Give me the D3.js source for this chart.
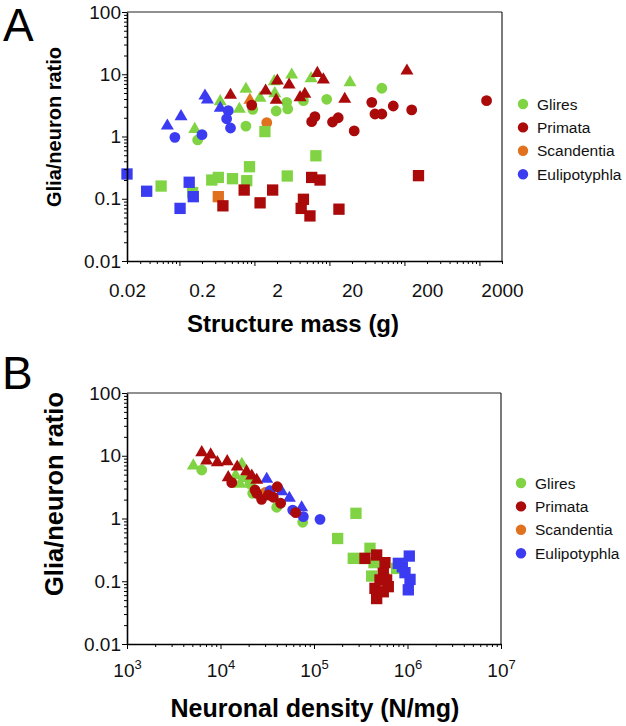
<!DOCTYPE html>
<html><head><meta charset="utf-8">
<script src="https://cdn.jsdelivr.net/npm/d3@7"></script>
<style>
html,body{margin:0;padding:0;background:#fff;}
svg{display:block;font-family:"Liberation Sans",Arial,Helvetica,sans-serif;}
</style></head>
<body>
<svg id="chart" width="626" height="726"></svg>
<script>
// ---------- DATA ----------
const groups = ["Glires","Primata","Scandentia","Eulipotyphla"];
const groupColors = ["#80d443","#aa0a0a","#e0711f","#3b3bf2"];
const drawOrder = ["Scandentia","Glires","Eulipotyphla","Primata"];

// Panel A: [structure mass (g), glia/neuron ratio]
const massGliresCircle = [[0.175,0.88],[0.77,1.47],[0.95,2.73],[1.95,2.57],[2.69,3.54],[2.78,2.77],[4.5,3.76],[9.2,3.96],[50,5.95]];
const massGliresTriangle = [[0.16,1.35],[0.35,3.76],[0.63,2.84],[0.77,5.95],[1.19,4.26],[1.84,7.88],[1.87,5.06],[3.14,10.1],[5.7,8.8],[18.8,7.6]];
const massGliresSquare = [[0.057,0.16],[0.15,0.126],[0.27,0.2],[0.33,0.22],[0.51,0.21],[0.79,0.195],[0.86,0.327],[1.38,1.2],[2.74,0.232],[6.6,0.49]];
const massPrimataCircle = [[0.92,3.2],[5.8,1.73],[6.4,2.08],[11,1.71],[13.1,2.0],[21.4,1.23],[36.7,3.54],[40.5,2.3],[50,2.3],[71,3.09],[125,2.67],[1245,3.76]];
const massPrimataTriangle = [[0.48,4.76],[1.41,5.58],[2.02,8.09],[1.95,3.96],[2.9,6.97],[4.06,4.36],[4.7,4.94],[6.9,10.7],[8.3,8.4],[16,4.11],[108,11.7]];
const massPrimataSquare = [[0.38,0.077],[0.73,0.138],[1.19,0.086],[1.75,0.138],[4.5,0.098],[4.2,0.070],[5.5,0.053],[5.8,0.22],[7.5,0.2],[13.4,0.068],[154,0.235]];
const massScandentiaCircle = [[1.46,1.67]];
const massScandentiaTriangle = [[0.87,3.96]];
const massScandentiaSquare = [[0.33,0.108]];
const massEulipotyphlaCircle = [[0.087,0.97],[0.2,1.07],[0.448,2.6],[0.426,1.93],[0.48,1.37]];
const massEulipotyphlaTriangle = [[0.069,1.53],[0.105,2.16],[0.219,4.64],[0.236,4.0],[0.35,2.94]];
const massEulipotyphlaSquare = [[0.02,0.25],[0.0366,0.132],[0.135,0.184],[0.153,0.108],[0.102,0.070]];

// Panel B: [neuronal density (N/mg), glia/neuron ratio]
const densGliresCircle = [[6300,5.93],[20700,3.55],[22100,2.52],[39900,1.51],[75700,0.87]];
const densGliresTriangle = [[5120,7.13],[16900,7.6],[16200,3.64],[14500,5.0],[17500,4.5]];
const densGliresSquare = [[281000,1.21],[179000,0.48],[263000,0.232],[397000,0.335],[438000,0.198],[414000,0.121],[766000,0.16],[340000,0.23]];
const densPrimataCircle = [[13200,3.72],[23400,2.85],[24400,2.52],[27500,2.02],[32400,2.37],[36700,2.18],[40500,3.21],[44000,1.75],[63700,1.24]];
const densPrimataTriangle = [[6300,11.6],[7850,10.7],[7100,8.55],[9250,8.04],[11800,8.34],[15100,6.87],[12100,4.64],[19000,5.78],[21600,4.93],[24400,4.22]];
const densPrimataSquare = [[351000,0.232],[468000,0.262],[574000,0.198],[551000,0.134],[598000,0.105],[449000,0.077],[468000,0.053],[623000,0.082],[551000,0.068],[508000,0.105]];
const densScandentiaCircle = [[30000,2.6]];
const densScandentiaTriangle = [[20000,4.8]];
const densScandentiaSquare = [[560000,0.11]];
const densEulipotyphlaCircle = [[59200,1.36],[76900,1.07],[116000,0.97],[33800,2.77]];
const densEulipotyphlaTriangle = [[31200,4.37],[45100,2.77],[54500,2.18],[73800,1.54]];
const densEulipotyphlaSquare = [[1045000,0.252],[798000,0.193],[940000,0.137],[1064000,0.107],[1020000,0.073],[880000,0.17]];

const yTickLabels = [100,10,1,0.1,0.01];
const xTickLabelsA = [0.02,0.2,2,20,200,2000];
const xTickExpB = [3,4,5,6,7];

// ---------- DRAW ----------
const svg = d3.select("#chart");
const FONT = '"Liberation Sans",Arial,Helvetica,sans-serif';
const color = d3.scaleOrdinal().domain(groups).range(groupColors);

const panelData = {
  A: {
    Glires:{circle:massGliresCircle,triangle:massGliresTriangle,square:massGliresSquare},
    Primata:{circle:massPrimataCircle,triangle:massPrimataTriangle,square:massPrimataSquare},
    Scandentia:{circle:massScandentiaCircle,triangle:massScandentiaTriangle,square:massScandentiaSquare},
    Eulipotyphla:{circle:massEulipotyphlaCircle,triangle:massEulipotyphlaTriangle,square:massEulipotyphlaSquare}
  },
  B: {
    Glires:{circle:densGliresCircle,triangle:densGliresTriangle,square:densGliresSquare},
    Primata:{circle:densPrimataCircle,triangle:densPrimataTriangle,square:densPrimataSquare},
    Scandentia:{circle:densScandentiaCircle,triangle:densScandentiaTriangle,square:densScandentiaSquare},
    Eulipotyphla:{circle:densEulipotyphlaCircle,triangle:densEulipotyphlaTriangle,square:densEulipotyphlaSquare}
  }
};

function logTicks(lo, hi){
  const out=[];
  for(let n=Math.floor(Math.log10(lo)); n<=Math.ceil(Math.log10(hi)); n++){
    for(let k=1;k<=9;k++){
      const v=+(k*Math.pow(10,n)).toPrecision(6);
      if(v>=lo*0.9999 && v<=hi*1.0001) out.push({v, major:k===1});
    }
  }
  return out;
}

const symbolPath = {
  circle: d3.symbol().type(d3.symbolCircle).size(92)(),
  square: d3.symbol().type(d3.symbolSquare).size(128)(),
  triangle: "M0,-6.6L6.5,4.5L-6.5,4.5Z"
};

function drawPanel(cfg){
  const g = svg.append("g");
  const x = d3.scaleLog().domain(cfg.xDomain).range([cfg.x0,cfg.x1]);
  const y = d3.scaleLog().domain([0.01,100]).range([cfg.y1,cfg.y0]);

  // frame top/right
  g.append("line").attr("x1",cfg.x0).attr("x2",cfg.x1).attr("y1",cfg.y0).attr("y2",cfg.y0)
    .attr("stroke","#222").attr("stroke-width",1.2);
  g.append("line").attr("x1",cfg.x1).attr("x2",cfg.x1).attr("y1",cfg.y0).attr("y2",cfg.y1)
    .attr("stroke","#222").attr("stroke-width",1.2);

  // points
  const pts = g.append("g");
  drawOrder.forEach(grp=>{
    ["square","circle","triangle"].forEach(shape=>{
      pts.selectAll(null).data(cfg.data[grp][shape]).enter().append("path")
        .attr("d",symbolPath[shape])
        .attr("transform",d=>`translate(${x(d[0])},${y(d[1])})`)
        .attr("fill",color(grp));
    });
  });

  // y axis ticks
  const yt = logTicks(0.01,100);
  const yAx = g.append("g").attr("transform",`translate(${cfg.x0},0)`)
    .call(d3.axisLeft(y).tickValues(yt.map(d=>d.v)).tickFormat("").tickSizeOuter(0));
  yAx.selectAll(".tick line").attr("x2",(d,i)=>yt[i].major?-5:-3).attr("stroke-width",1);
  yAx.select(".domain").attr("stroke-width",1.6);
  const yLab = g.append("g").attr("transform",`translate(${cfg.x0},0)`)
    .call(d3.axisLeft(y).tickValues(yTickLabels).tickFormat(d=>String(d)).tickSize(0).tickPadding(6));
  yLab.select(".domain").remove();
  yLab.selectAll("text").attr("font-family",FONT).attr("font-size",19).attr("fill","#111");

  // x axis ticks
  const xt = logTicks(cfg.xDomain[0],cfg.xDomain[1]);
  const xAx = g.append("g").attr("transform",`translate(0,${cfg.y1})`)
    .call(d3.axisBottom(x).tickValues(xt.map(d=>d.v)).tickFormat("").tickSizeOuter(0));
  xAx.selectAll(".tick line").attr("y2",(d,i)=>xt[i].major?5:3).attr("stroke-width",1);
  xAx.select(".domain").attr("stroke-width",1.6);
  return {g,x,y};
}

// Panel A
const A = drawPanel({x0:127,x1:502,y0:12,y1:261,xDomain:[0.02,2000],data:panelData.A});
const xLabA = A.g.append("g").attr("transform","translate(0,261)")
  .call(d3.axisBottom(A.x).tickValues(xTickLabelsA).tickFormat(d=>String(d)).tickSize(0).tickPadding(23));
xLabA.select(".domain").remove();
xLabA.selectAll("text").attr("font-family",FONT).attr("font-size",19).attr("fill","#111");

// Panel B
const B = drawPanel({x0:127,x1:501,y0:393,y1:644,xDomain:[1e3,1e7],data:panelData.B});
const xLabB = B.g.append("g").attr("transform","translate(0,644)")
  .call(d3.axisBottom(B.x).tickValues(xTickExpB.map(e=>Math.pow(10,e))).tickFormat("").tickSize(0));
xLabB.select(".domain").remove();
xLabB.selectAll(".tick").each(function(d,i){
  const t = d3.select(this).append("text").attr("y",33).attr("text-anchor","middle")
    .attr("font-family",FONT).attr("font-size",19).attr("fill","#111");
  t.append("tspan").text("10");
  t.append("tspan").attr("dy",-8).attr("font-size",13).text(String(xTickExpB[i]));
});

// Titles
function txt(x,y,s,size,weight,anchor,rot){
  const t = svg.append("text").attr("x",x).attr("y",y).text(s)
    .attr("font-family",FONT).attr("font-size",size).attr("font-weight",weight||"normal")
    .attr("text-anchor",anchor||"middle").attr("fill","#000");
  if(rot) t.attr("transform",`rotate(${rot},${x},${y})`);
  return t;
}
txt(3,41,"A",46,"normal","start");
txt(2,389,"B",46,"normal","start");
txt(61,127,"Glia/neuron ratio",20,"bold","middle",-90);
txt(63,494,"Glia/neuron ratio",25.5,"bold","middle",-90);
txt(293,332,"Structure mass (g)",24,"bold");
txt(315,717,"Neuronal density (N/mg)",25,"bold");

// Legends
function legend(cx,cy0,step,tx){
  groups.forEach((grp,i)=>{
    svg.append("circle").attr("cx",cx).attr("cy",cy0+i*step).attr("r",5.2).attr("fill",color(grp));
    svg.append("text").attr("x",tx).attr("y",cy0+i*step).attr("dy","0.36em").text(grp)
      .attr("font-family",FONT).attr("font-size",15.5).attr("fill","#111");
  });
}
legend(523,104,23.4,537);
legend(521,483,23.4,535);
</script>
</body></html>
